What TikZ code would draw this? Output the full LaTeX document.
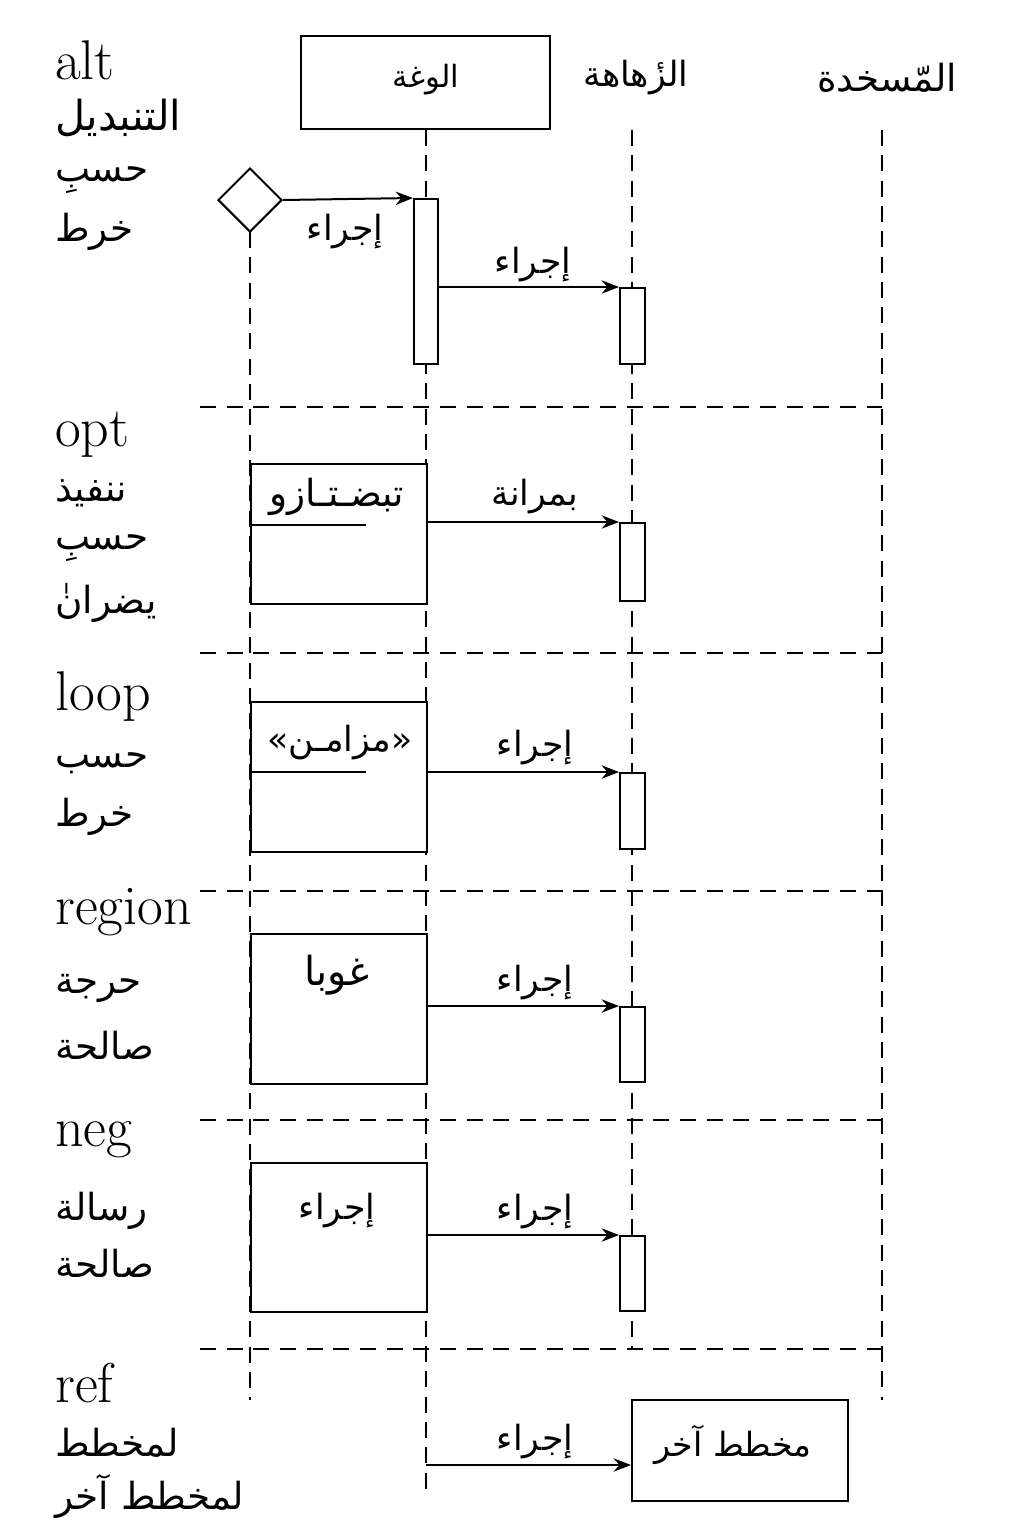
\documentclass[tikz,border=0pt]{standalone}
\usepackage{fontspec}
\TeXXeTstate=1
\newfontfamily\arabicfont[Script=Arabic]{DejaVu Sans}
\usetikzlibrary{arrows.meta,shapes.geometric}
\newcommand{\ar}[1]{\arabicfont\beginR #1\endR}
\begin{document}
\begin{tikzpicture}[x=0.75pt,y=-0.75pt,
  lat/.style={font=\fontsize{42}{46}\selectfont, anchor=west, inner sep=0pt},
  arl/.style={font=\fontsize{28}{32}\selectfont\arabicfont, anchor=west, inner sep=0pt},
  art/.style={font=\fontsize{26}{30}\selectfont\arabicfont, inner sep=0pt},
  life/.style={dashed, dash pattern=on 12pt off 7pt, line width=1.2pt},
  sep/.style={dashed, dash pattern=on 12pt off 8pt, line width=1.2pt},
  box/.style={draw, line width=1.5pt, fill=white},
  msg/.style={line width=1.5pt, -{Stealth[length=13pt,width=10pt]}},
]
\useasboundingbox (0,0) rectangle (1024,1536);
% lifelines
\coordinate (l1t) at (250,232); \coordinate (l1b) at (250,1400);
\coordinate (l2t) at (426,130); \coordinate (l2b) at (426,1490);
\coordinate (l3t) at (632,130); \coordinate (l3b) at (632,1350);
\coordinate (l4t) at (882,130); \coordinate (l4b) at (882,1400);
\draw[life] (l1t) -- (l1b);
\draw[life] (l2t) -- (l2b);
\draw[life] (l3t) -- (l3b);
\draw[life] (l4t) -- (l4b);
% separators
\foreach \yy/\nm in {407/s1,653/s2,891/s3,1120/s4,1349/s5}{
  \coordinate (\nm a) at (200,\yy); \coordinate (\nm b) at (882,\yy);
  \draw[sep] (\nm a) -- (\nm b);
}
% header
\node[box, minimum width=249*0.75pt, minimum height=93*0.75pt] (obj1) at (425.5,82.5) {};
\node[art, font=\fontsize{23}{28}\selectfont\arabicfont] (obj1t) at (426,80) {\ar{الوغة}};
\node[art] (obj2) at (636,78) {\ar{الزٔهاهة}};
\node[art, font=\fontsize{28}{32}\selectfont\arabicfont] (obj3) at (887,78) {\ar{المّسخدة}};

% alt
\node[lat] (altl) at (55,60) {alt};
\node[arl, font=\fontsize{31}{34}\selectfont\arabicfont] (alt1) at (55,118) {\ar{التنبديل}};
\node[arl] (alt2) at (55,180) {\ar{حسبِ}};
\node[arl] (alt3) at (55,232) {\ar{خرط}};
\node[diamond, draw, line width=1.5pt, fill=white, minimum width=64*0.75pt, minimum height=64*0.75pt, inner sep=0pt] (dia) at (250,200) {};
\node[box, minimum width=24*0.75pt, minimum height=165*0.75pt, anchor=north, inner sep=0pt] (act1) at (426,198) {};
\draw[msg] (dia.east) -- (act1.north west);
\node[art] (m0) at (345,232) {\ar{إجراء}};
\node[box, minimum width=25*0.75pt, minimum height=76*0.75pt, anchor=north, inner sep=0pt] (act2) at (632.5,287) {};
\coordinate (a1s) at (438,287);
\draw[msg] (a1s) -- (act2.north west);
\node[art] (m1) at (533,265) {\ar{إجراء}};

% opt
\node[lat] (optl) at (55,435) {opt};
\node[arl] (opt1) at (55,493) {\ar{ننفيذ}};
\node[arl] (opt2) at (55,548) {\ar{حسبِ}};
\node[arl] (opt3) at (55,603) {\ar{يضرانٰ}};
\node[box, minimum width=176*0.75pt, minimum height=140*0.75pt, anchor=north west, inner sep=0pt] (b2) at (250,463) {};
\coordinate (b2la) at (250,525); \coordinate (b2lb) at (366,525);
\draw[line width=1.5pt] (b2la) -- (b2lb);
\node[art, font=\fontsize{28}{32}\selectfont\arabicfont] (b2t) at (337,497) {\ar{تبضـتـازو}};
\node[box, minimum width=25*0.75pt, minimum height=78*0.75pt, anchor=north, inner sep=0pt] (act3) at (632.5,522) {};
\coordinate (b2s) at (426,522);
\draw[msg] (b2s) -- (act3.north west);
\node[art] (m2) at (535,497) {\ar{بمرانة}};

% loop
\node[lat] (loopl) at (55,697) {loop};
\node[arl] (loop1) at (55,763) {\ar{حسب}};
\node[arl] (loop2) at (55,817) {\ar{خرط}};
\node[box, minimum width=176*0.75pt, minimum height=150*0.75pt, anchor=north west, inner sep=0pt] (b3) at (250,701) {};
\coordinate (b3la) at (250,772); \coordinate (b3lb) at (366,772);
\draw[line width=1.5pt] (b3la) -- (b3lb);
\node[art] (b3t) at (340,743) {\ar{«مزامـن»}};
\node[box, minimum width=25*0.75pt, minimum height=76*0.75pt, anchor=north, inner sep=0pt] (act4) at (632.5,772) {};
\coordinate (b3s) at (426,772);
\draw[msg] (b3s) -- (act4.north west);
\node[art] (m3) at (535,748) {\ar{إجراء}};

% region
\node[lat] (regl) at (55,912) {region};
\node[arl] (reg1) at (55,988) {\ar{حرجة}};
\node[arl] (reg2) at (55,1045) {\ar{صالحة}};
\node[box, minimum width=176*0.75pt, minimum height=150*0.75pt, anchor=north west, inner sep=0pt] (b4) at (250,933) {};
\node[art, font=\fontsize{30}{34}\selectfont\arabicfont] (b4t) at (337,975) {\ar{غوبا}};
\node[box, minimum width=25*0.75pt, minimum height=75*0.75pt, anchor=north, inner sep=0pt] (act5) at (632.5,1006) {};
\coordinate (b4s) at (426,1006);
\draw[msg] (b4s) -- (act5.north west);
\node[art] (m4) at (535,983) {\ar{إجراء}};

% neg
\node[lat] (negl) at (55,1140) {neg};
\node[arl] (neg1) at (55,1211) {\ar{رسالة}};
\node[arl] (neg2) at (55,1263) {\ar{صالحة}};
\node[box, minimum width=176*0.75pt, minimum height=149*0.75pt, anchor=north west, inner sep=0pt] (b5) at (250,1162) {};
\node[art] (b5t) at (337,1211) {\ar{إجراء}};
\node[box, minimum width=25*0.75pt, minimum height=75*0.75pt, anchor=north, inner sep=0pt] (act6) at (632.5,1235) {};
\coordinate (b5s) at (426,1235);
\draw[msg] (b5s) -- (act6.north west);
\node[art] (m5) at (535,1212) {\ar{إجراء}};

% ref
\node[lat] (refl) at (55,1383) {ref};
\node[arl] (ref1) at (55,1443) {\ar{لمخطط}};
\node[arl] (ref2) at (55,1497) {\ar{لمخطط آخر}};
\node[box, minimum width=216*0.75pt, minimum height=101*0.75pt, anchor=north west, inner sep=0pt] (b6) at (631,1399) {};
\node[art, font=\fontsize{25}{30}\selectfont\arabicfont] (b6t) at (733,1445) {\ar{مخطط آخر}};
\coordinate (b6s) at (426,1465);
\draw[msg] (b6s) -- (b6s -| b6.west);
\node[art] (m6) at (535,1442) {\ar{إجراء}};
\end{tikzpicture}
\end{document}
